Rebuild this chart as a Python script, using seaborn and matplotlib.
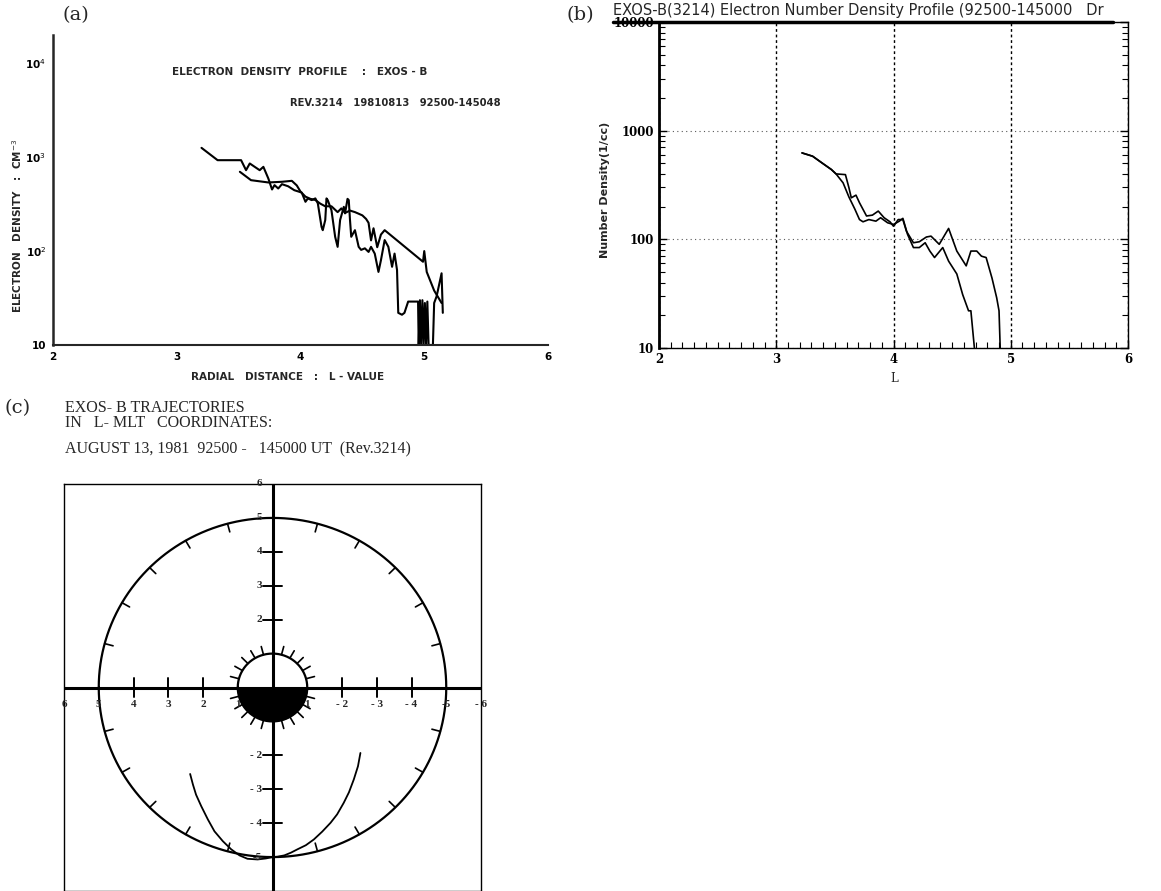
import numpy as np
import pandas as pd
import matplotlib
matplotlib.use("Agg")
import matplotlib.pyplot as plt
import matplotlib.ticker as mticker
from matplotlib.lines import Line2D
import seaborn as sns

# ── data: (a) EXOS-B electron density vs L (two passes) ────────────────────────
a1_L = [3.20, 3.33, 3.52, 3.56, 3.59, 3.63, 3.67, 3.70, 3.74, 3.77, 3.79, 3.82,
        3.85, 3.90, 3.95, 4.01, 4.04, 4.06, 4.09, 4.12, 4.14, 4.17, 4.18, 4.20,
        4.21, 4.22, 4.25, 4.28, 4.30, 4.32, 4.35, 4.36, 4.38, 4.39, 4.40, 4.41,
        4.44, 4.47, 4.49, 4.52, 4.55, 4.57, 4.60, 4.63, 4.65, 4.68, 4.71, 4.74,
        4.76, 4.78, 4.79, 4.82, 4.84, 4.87, 4.92, 4.95, 4.955, 4.965, 4.975,
        4.985, 4.995, 5.005, 5.015, 5.025, 5.035, 5.045, 5.07, 5.08, 5.10, 5.14,
        5.15]
a1_N = [1257, 929, 929, 727, 857, 789, 727, 789, 593, 453, 504, 464,
        516, 490, 445, 420, 335, 364, 349, 364, 322, 181, 167, 214,
        364, 349, 273, 142, 111, 214, 296, 252, 360, 349, 214, 142,
        167, 111, 103, 107, 98, 111, 94, 60, 80, 131, 111, 68,
        94, 63, 22, 21, 22, 29, 29, 29, 10, 30, 10,
        30, 10, 28, 10, 29, 10, 10, 10, 28, 33, 58,
        22]
a2_L = [3.51, 3.60, 3.74, 3.85, 3.93, 3.97, 4.00, 4.04, 4.08, 4.12, 4.16, 4.20,
        4.25, 4.30, 4.33, 4.36, 4.40, 4.44, 4.47, 4.50, 4.53, 4.55, 4.57, 4.59,
        4.62, 4.65, 4.68, 4.99, 5.00, 5.02, 5.08, 5.14]
a2_N = [699, 569, 538, 547, 560, 500, 430, 380, 360, 350, 320, 300,
        300, 260, 285, 255, 270, 260, 250, 240, 220, 200, 130, 175,
        110, 150, 167, 77, 100, 60, 38, 28]

# ── data: (b) number density profile ──────────────────────────────────────────
b1_L = [3.22, 3.31, 3.39, 3.47, 3.51, 3.55, 3.59, 3.62, 3.64, 3.68, 3.71, 3.77,
        3.82, 3.87, 3.92, 3.97, 4.00, 4.04, 4.08, 4.11, 4.17, 4.22, 4.28, 4.32,
        4.39, 4.47, 4.54, 4.62, 4.66, 4.71, 4.75, 4.79, 4.84, 4.88, 4.90, 4.91]
b1_N = [624, 582, 505, 439, 400, 397, 394, 298, 241, 255, 217, 164,
        167, 182, 158, 145, 132, 152, 152, 119, 93, 95, 105, 107,
        90, 126, 78, 57, 78, 78, 70, 68, 44, 29, 22, 10]
b2_L = [3.22, 3.31, 3.39, 3.47, 3.51, 3.57, 3.62, 3.67, 3.71, 3.74, 3.79, 3.85,
        3.89, 3.95, 4.00, 4.05, 4.08, 4.12, 4.17, 4.22, 4.27, 4.31, 4.35, 4.42,
        4.47, 4.54, 4.59, 4.64, 4.66, 4.69]
b2_N = [624, 582, 505, 439, 400, 331, 245, 190, 152, 145, 152, 147,
        158, 142, 137, 147, 156, 111, 84, 84, 93, 78, 68, 84,
        63, 48, 31, 22, 22, 10]

# ── data: (c) trajectories in L-MLT plane ─────────────────────────────────────
c1_x = [2.37, 2.29, 2.20, 2.05, 1.86, 1.67, 1.43, 1.19, 0.95, 0.72, 0.43,
        0.19, 0.0]
c1_y = [-2.55, -2.86, -3.16, -3.50, -3.89, -4.24, -4.53, -4.77, -4.95, -5.05,
        -5.07, -5.04, -5.00]
c2_x = [-2.53, -2.46, -2.34, -2.20, -2.05, -1.86, -1.67, -1.43, -1.19, -0.96,
        -0.72, -0.53, -0.34, -0.14, 0.0]
c2_y = [-1.93, -2.32, -2.71, -3.09, -3.40, -3.74, -3.99, -4.25, -4.48, -4.65,
        -4.77, -4.87, -4.95, -4.99, -5.00]
outer_L = 5.0
earth_L = 1.0
axis_vals = [2, 3, 4]
x_labels = {6: "6", 5: "5", 4: "4", 3: "3", 2: "2", 1: "1",
            -1: "1", -2: "- 2", -3: "- 3", -4: "- 4", -5: "-5", -6: "- 6"}
y_labels = {6: "6", 5: "5", 4: "4", 3: "3", 2: "2",
            -2: "- 2", -3: "- 3", -4: "- 4", -5: "-5"}

# ── figure ────────────────────────────────────────────────────────────────────
sns.set_theme(style="white")
plt.rcParams["font.family"] = ["DejaVu Sans"]
W, H = 1161, 891
fig = plt.figure(figsize=(W / 100, H / 100), dpi=100)


def box(x0, y0, x1, y1):
    return [x0 / W, 1 - y1 / H, (x1 - x0) / W, (y1 - y0) / H]


def ftext(x, y, s, **kw):
    fig.text(x / W, 1 - y / H, s, **kw)


NARROW = ["DejaVu Sans"]
SERIF = ["DejaVu Serif"]
TIMES = ["Liberation Serif", "DejaVu Serif"]

# -- (a) -----------------------------------------------------------------------
ax = fig.add_axes(box(53, 35, 548, 345))
for L, N in [(a1_L, a1_N), (a2_L, a2_N)]:
    sns.lineplot(x=L, y=N, ax=ax, color="black", lw=1.5, sort=False,
                 estimator=None)
ax.set_yscale("log")
ax.set_xlim(2, 6)
ax.set_ylim(10, 2e4)
ax.spines[["top", "right"]].set_visible(False)
ax.spines["left"].set_linewidth(1.8)
ax.spines["bottom"].set_linewidth(1.5)
ax.set_xticks([2, 3, 4, 5, 6])
ax.set_xticks([2.5, 3.5, 4.5, 5.5], minor=True)
ax.set_yticks([10, 100, 1000, 10000])
ax.set_yticklabels(["10", "10$^2$", "10$^3$", "10$^4$"])
ax.yaxis.set_minor_locator(mticker.NullLocator())
ax.tick_params(direction="in", length=4, width=1.2, colors="black",
               labelsize=7.5, pad=5)
ax.tick_params(which="minor", direction="in", length=3, width=1.0)
for t in ax.get_xticklabels() + ax.get_yticklabels():
    t.set_fontfamily(NARROW)
    t.set_fontweight("bold")
ftext(172, 72, "ELECTRON  DENSITY  PROFILE    :   EXOS - B", family=NARROW,
      fontsize=7.5, fontweight="bold", va="center")
ftext(290, 103, "REV.3214   19810813   92500-145048", family=NARROW,
      fontsize=7.2, fontweight="bold", va="center")
ftext(17, 226, "ELECTRON   DENSITY   :  CM$^{-3}$", family=NARROW, fontsize=7.5,
      fontweight="bold", rotation=90, ha="center", va="center")
ftext(288, 377, "RADIAL   DISTANCE   :   L - VALUE", family=NARROW, fontsize=7.5,
      fontweight="bold", ha="center", va="center")
ftext(63, 15, "(a)", family=SERIF, fontsize=14, va="center")

# -- (b) -----------------------------------------------------------------------
ax = fig.add_axes(box(659, 22, 1128, 348))
for L, N in [(b1_L, b1_N), (b2_L, b2_N)]:
    sns.lineplot(x=L, y=N, ax=ax, color="black", lw=1.2, sort=False,
                 estimator=None)
ax.set_yscale("log")
ax.set_xlim(2, 6)
ax.set_ylim(10, 10000)
ax.set_xlabel("")
ax.set_ylabel("")
for s in ax.spines.values():
    s.set_color("black")
    s.set_linewidth(1.0)
ax.spines["left"].set_linewidth(2.0)
ax.set_xticks([2, 3, 4, 5, 6])
ax.xaxis.set_minor_locator(mticker.MultipleLocator(0.1))
ax.yaxis.set_major_locator(mticker.FixedLocator([10, 100, 1000, 10000]))
ax.yaxis.set_minor_locator(mticker.LogLocator(subs=np.arange(2, 10)))
ax.yaxis.set_major_formatter(mticker.FuncFormatter(lambda v, _: f"{v:.0f}"))
ax.yaxis.set_minor_formatter(mticker.NullFormatter())
ax.tick_params(which="both", direction="in", colors="black", left=True,
               right=True, bottom=True, top=False, labelsize=8.5)
ax.tick_params(which="major", length=6, width=1.0)
ax.tick_params(which="minor", length=4, width=0.8)
for t in ax.get_xticklabels() + ax.get_yticklabels():
    t.set_fontfamily(SERIF)
    t.set_fontweight("bold")
ax.xaxis.grid(True, color="black", lw=1.0, ls=(0, (2, 2)))
ax.yaxis.grid(True, which="major", color="0.35", lw=0.8, ls=(0, (1, 3)))
ftext(894, 378, "L", family=SERIF, fontsize=8.5, ha="center", va="center")
ftext(605, 190, "Number Density(1/cc)", family=["DejaVu Sans"], fontsize=8,
      fontweight="bold", rotation=90, ha="center", va="center")
ftext(613, 10, "EXOS-B(3214) Electron Number Density Profile (92500-145000"
      "   Dr", family=["DejaVu Sans"], fontsize=10.5, va="center")
fig.add_artist(Line2D([613 / W, 1113 / W], [1 - 22 / H, 1 - 22 / H],
                      color="black", lw=2.5))
ftext(566, 15, "(b)", family=SERIF, fontsize=14, va="center")

# -- (c) -----------------------------------------------------------------------
ax = fig.add_axes(box(64, 484, 481, 891))
ax.set_xlim(6, -6)
ax.set_ylim(-6, 6)
ax.set_xticks([])
ax.set_yticks([])
for s in ax.spines.values():
    s.set_color("black")
    s.set_linewidth(1.0)
ax.axhline(0, color="black", lw=2.2)
ax.axvline(0, color="black", lw=2.2)

theta = np.linspace(0, 2 * np.pi, 361)
ring = pd.DataFrame({"x": outer_L * np.cos(theta), "y": outer_L * np.sin(theta)})
sns.lineplot(data=ring, x="x", y="y", ax=ax, color="black", lw=1.6,
             sort=False, estimator=None)
earth = pd.DataFrame({"x": earth_L * np.cos(theta), "y": earth_L * np.sin(theta)})
sns.lineplot(data=earth, x="x", y="y", ax=ax, color="black", lw=1.6,
             sort=False, estimator=None)
xs = np.linspace(-earth_L, earth_L, 200)
ax.fill_between(xs, -np.sqrt(earth_L ** 2 - xs ** 2), 0, color="black", lw=0)

# hour marks (every 15 deg MLT)
for deg in range(0, 360, 15):
    if deg % 90 == 0:
        continue
    a = np.deg2rad(deg)
    ax.plot([outer_L * np.cos(a), (outer_L - 0.25) * np.cos(a)],
            [outer_L * np.sin(a), (outer_L - 0.25) * np.sin(a)],
            color="black", lw=1.2)
    ax.plot([earth_L * np.cos(a), (earth_L + 0.25) * np.cos(a)],
            [earth_L * np.sin(a), (earth_L + 0.25) * np.sin(a)],
            color="black", lw=1.2)

for v in axis_vals:
    for sgn in (1, -1):
        ax.plot([sgn * v, sgn * v], [-0.27, 0.27], color="black", lw=1.4)
        ax.plot([-0.27, 0.27], [sgn * v, sgn * v], color="black", lw=1.4)

for v, s in x_labels.items():
    ax.text(v, -0.5, s, family=TIMES, fontsize=8, fontweight="bold",
            ha="center", va="center")
for v, s in y_labels.items():
    ax.text(0.3, v, s, family=TIMES, fontsize=8, fontweight="bold",
            ha="right", va="center")

for cx, cy in [(c1_x, c1_y), (c2_x, c2_y)]:
    sns.lineplot(x=cx, y=cy, ax=ax, color="black", lw=1.3, sort=False,
                 estimator=None)
ax.set_xlabel("")
ax.set_ylabel("")

ftext(5, 408, "(c)", family=SERIF, fontsize=14, va="center")
ftext(65, 408, "EXOS- B TRAJECTORIES", family=TIMES, fontsize=11.5,
      va="center")
ftext(65, 423, "IN   L- MLT   COORDINATES:", family=TIMES, fontsize=11.5,
      va="center")
ftext(65, 449, "AUGUST 13, 1981  92500 -   145000 UT  (Rev.3214)",
      family=TIMES, fontsize=11.5, va="center")

fig.savefig("out.png", dpi=100)
